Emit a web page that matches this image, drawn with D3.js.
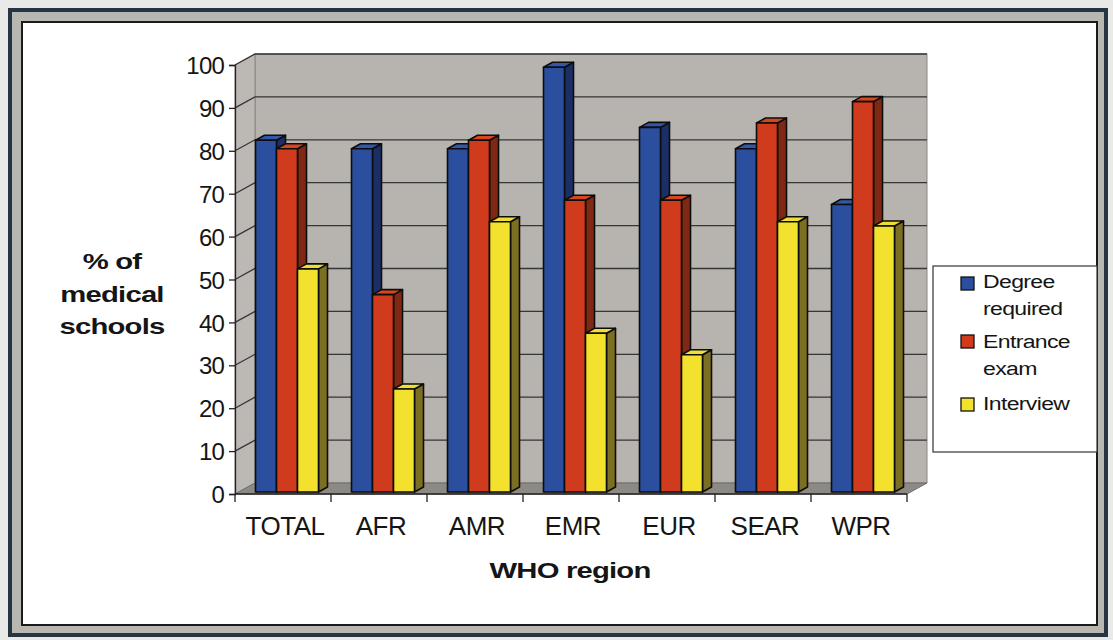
<!DOCTYPE html>
<html>
<head>
<meta charset="utf-8">
<script src="https://cdn.jsdelivr.net/npm/d3@7"></script>
<style>
  html, body { margin: 0; padding: 0; background: #e9e9e7; }
  svg { display: block; }
  text { font-family: "Liberation Sans", Arial, sans-serif; fill: #151515; }
</style>
</head>
<body>
<svg id="chart" width="1113" height="640"></svg>
<script>
// Admission requirements of medical schools by WHO region (% of schools)
const categories = ["TOTAL", "AFR", "AMR", "EMR", "EUR", "SEAR", "WPR"];
const seriesNames = ["Degree required", "Entrance exam", "Interview"];
const legendLines = [["Degree", "required"], ["Entrance", "exam"], ["Interview"]];
const degreeRequired = [82, 80, 80, 99, 85, 80, 67];
const entranceExam   = [80, 46, 82, 68, 68, 86, 91];
const interview      = [52, 24, 63, 37, 32, 63, 62];
const yTicks = [0, 10, 20, 30, 40, 50, 60, 70, 80, 90, 100];
const yTitleLines = ["% of", "medical", "schools"];
const xTitle = "WHO region";

const seriesValues = [degreeRequired, entranceExam, interview];
const palette = [
  { front: "#2b4f9e", top: "#3158aa", side: "#1b2f66" },
  { front: "#d13b1d", top: "#d6461f", side: "#7f2915" },
  { front: "#f3e22d", top: "#efdf35", side: "#7b6f24" }
];

const svg = d3.select("#chart");

// ---- frame ----
svg.append("rect").attr("x", 10).attr("y", 10).attr("width", 1096).attr("height", 625)
  .attr("fill", "#b9b7b2").attr("stroke", "#263541").attr("stroke-width", 4);
svg.append("rect").attr("x", 22).attr("y", 22).attr("width", 1075).attr("height", 603)
  .attr("fill", "#ffffff").attr("stroke", "#1b1b1b").attr("stroke-width", 2);

// ---- scales ----
const y = d3.scaleLinear().domain([0, 100]).range([494, 65]);
const x0 = d3.scaleBand().domain(categories).range([235, 907]).paddingInner(0).paddingOuter(0);
const barW = 21;
const xs = d3.scaleBand().domain(seriesNames).range([0, barW * seriesNames.length]);

// oblique depth offsets
const wall = { dx: 20, dy: -11 };   // floor / back wall depth
const shift = { dx: 4, dy: -2 };    // front face of the bars
const bd = { dx: 9, dy: -5 };       // bar depth

const xL = x0.range()[0], xR = x0.range()[1];
const y0 = y(0), yTop = y(100);
const pts = a => a.map(p => p.join(",")).join(" ");

// back wall
svg.append("polygon")
  .attr("points", pts([[xL + wall.dx, yTop + wall.dy], [xR + wall.dx, yTop + wall.dy],
                       [xR + wall.dx, y0 + wall.dy], [xL + wall.dx, y0 + wall.dy]]))
  .attr("fill", "#b7b3ae").attr("stroke", "#8a8783").attr("stroke-width", 1);
// side wall
svg.append("polygon")
  .attr("points", pts([[xL, yTop], [xL + wall.dx, yTop + wall.dy],
                       [xL + wall.dx, y0 + wall.dy], [xL, y0]]))
  .attr("fill", "#bcb8b4").attr("stroke", "#8a8783").attr("stroke-width", 1);
// floor
svg.append("polygon")
  .attr("points", pts([[xL, y0], [xR, y0], [xR + wall.dx, y0 + wall.dy], [xL + wall.dx, y0 + wall.dy]]))
  .attr("fill", "#8d8a86").attr("stroke", "#6f6c69").attr("stroke-width", 1);

// gridlines on the back and side walls
const grid = svg.append("g").attr("stroke", "#363636").attr("stroke-width", 1.3).attr("fill", "none");
yTicks.filter(t => t > 0).forEach(t => {
  grid.append("polyline")
    .attr("points", pts([[xL, y(t)], [xL + wall.dx, y(t) + wall.dy], [xR + wall.dx, y(t) + wall.dy]]));
});

// ---- bars ----
const barsG = svg.append("g").attr("stroke", "#0d0d0d").attr("stroke-width", 1.6).attr("stroke-linejoin", "round");
categories.forEach((c, ci) => {
  const gx = x0(c) + (x0.bandwidth() - xs.range()[1]) / 2 + shift.dx;
  seriesNames.forEach((s, si) => {
    const v = seriesValues[si][ci];
    const l = gx + xs(s), r = l + xs.bandwidth();
    const t = y(v) + shift.dy, b = y(0) + shift.dy;
    const col = palette[si];
    // side face
    barsG.append("polygon")
      .attr("points", pts([[r, t], [r + bd.dx, t + bd.dy], [r + bd.dx, b + bd.dy], [r, b]]))
      .attr("fill", col.side);
    // top face
    barsG.append("polygon")
      .attr("points", pts([[l, t], [l + bd.dx, t + bd.dy], [r + bd.dx, t + bd.dy], [r, t]]))
      .attr("fill", col.top);
    // front face
    barsG.append("rect")
      .attr("x", l).attr("y", t).attr("width", r - l).attr("height", b - t)
      .attr("fill", col.front);
  });
});

// ---- axes ----
const yAxis = d3.axisLeft(y).tickValues(yTicks).tickSize(6).tickPadding(5);
const yg = svg.append("g").attr("transform", `translate(${xL},0)`).call(yAxis);
yg.select(".domain").attr("stroke", "#222").attr("stroke-width", 1.3);
yg.selectAll(".tick line").attr("stroke", "#222").attr("stroke-width", 1.3);
yg.selectAll(".tick text")
  .attr("font-size", 24).attr("font-family", "Liberation Sans, Arial, sans-serif")
  .attr("fill", "#151515").attr("dy", "0.36em").attr("letter-spacing", -0.8);

const boundaries = categories.map(c => x0(c)).concat([xR]);
const xg = svg.append("g");
xg.append("line").attr("x1", xL).attr("x2", xR).attr("y1", y0).attr("y2", y0)
  .attr("stroke", "#222").attr("stroke-width", 1.3);
xg.selectAll("line.tick").data(boundaries).join("line").attr("class", "tick")
  .attr("x1", d => d).attr("x2", d => d).attr("y1", y0).attr("y2", y0 + 8)
  .attr("stroke", "#222").attr("stroke-width", 1.3);
xg.selectAll("text").data(categories).join("text")
  .attr("x", d => x0(d) + x0.bandwidth() / 2 + 2).attr("y", 535)
  .attr("text-anchor", "middle").attr("font-size", 26).attr("letter-spacing", -0.5)
  .text(d => d);

// ---- axis titles ----
const yTitle = svg.append("g").attr("transform", "translate(112,0)");
yTitleLines.forEach((line, i) => {
  yTitle.append("text")
    .attr("transform", `translate(0,${269 + i * 32.5}) scale(1.33,1)`)
    .attr("text-anchor", "middle").attr("font-size", 22).attr("font-weight", "bold")
    .attr("letter-spacing", -0.6)
    .text(line);
});
svg.append("text")
  .attr("transform", "translate(570,578) scale(1.33,1)")
  .attr("text-anchor", "middle").attr("font-size", 22).attr("font-weight", "bold")
  .attr("letter-spacing", -0.6)
  .text(xTitle);

// ---- legend ----
const legend = svg.append("g");
legend.append("rect").attr("x", 933).attr("y", 266).attr("width", 164).attr("height", 186)
  .attr("fill", "#ffffff").attr("stroke", "#333").attr("stroke-width", 1.2);
const swatchY = [277, 335, 398];
const textY = [288, 348, 410];
seriesNames.forEach((s, i) => {
  legend.append("rect").attr("x", 961).attr("y", swatchY[i]).attr("width", 13).attr("height", 13)
    .attr("fill", palette[i].front).attr("stroke", "#111").attr("stroke-width", 1.3);
  legendLines[i].forEach((ln, j) => {
    legend.append("text")
      .attr("transform", `translate(983,${textY[i] + j * 27}) scale(1.28,1)`)
      .attr("font-size", 18).attr("letter-spacing", -0.5)
      .text(ln);
  });
});
</script>
</body>
</html>
